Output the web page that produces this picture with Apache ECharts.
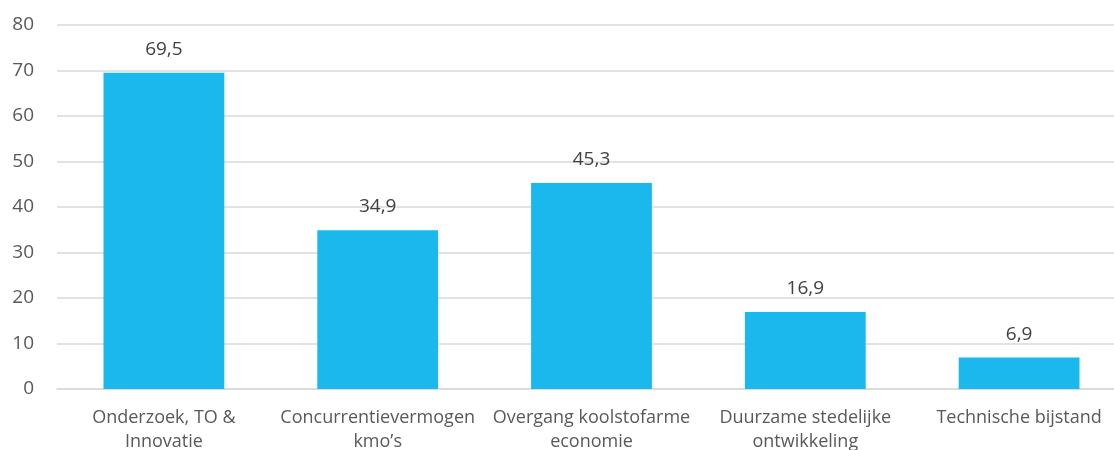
<!DOCTYPE html>
<html>
<head>
<meta charset="utf-8">
<script src="https://cdn.jsdelivr.net/npm/echarts@6/dist/echarts.min.js"></script>
<style>
  html, body { margin: 0; padding: 0; background: #fff; }
  #chart { width: 1114px; height: 450px; }
</style>
</head>
<body>
<div id="chart"></div>
<script>
// categorieën en bedragen
const categories = [
  'Onderzoek, TO &\nInnovatie',
  'Concurrentievermogen\nkmo\u2019s',
  'Overgang koolstofarme\neconomie',
  'Duurzame stedelijke\nontwikkeling',
  'Technische bijstand'
]
const values = [69.5, 34.9, 45.3, 16.9, 6.9]
const yTicks = [0, 10, 20, 30, 40, 50, 60, 70, 80]

const chart = echarts.init(document.getElementById('chart'))
chart.setOption({
  animation: false,
  textStyle: { fontFamily: 'Open Sans' },
  grid: { left: 57, right: -12, top: 25, bottom: 61, containLabel: false, outerBoundsMode: 'none' },
  xAxis: {
    type: 'category',
    data: categories,
    axisLine: { lineStyle: { color: '#d9d9d9', width: 1.5 } },
    axisTick: { show: false },
    axisLabel: {
      color: '#595959',
      fontSize: 18,
      lineHeight: 24,
      margin: 17,
      interval: 0
    }
  },
  yAxis: {
    type: 'value',
    min: yTicks[0],
    max: yTicks[yTicks.length - 1],
    interval: 10,
    axisLine: { show: false },
    axisTick: { show: false },
    axisLabel: { color: '#595959', fontSize: 19, margin: 23 },
    splitLine: { lineStyle: { color: '#d9d9d9', width: 1.5 } }
  },
  series: [
    {
      type: 'bar',
      data: values,
      barWidth: '56.5%',
      itemStyle: { color: '#1ab8ec' },
      label: {
        show: true,
        position: 'top',
        distance: 14,
        color: '#404040',
        fontSize: 19,
        formatter: p => String(p.value).replace('.', ',')
      }
    }
  ]
})
</script>
</body>
</html>
